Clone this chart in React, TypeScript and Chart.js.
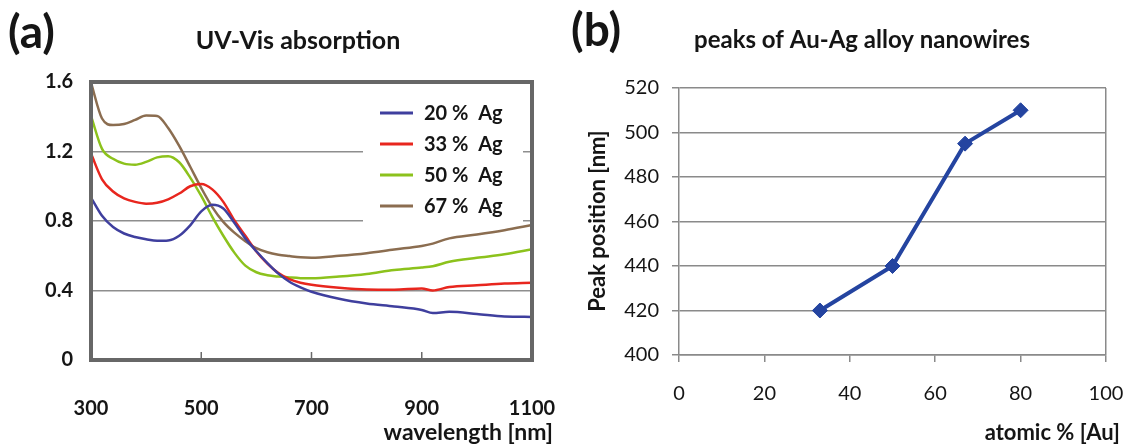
import React, { useEffect, useRef } from "react";
import { Chart, registerables } from "chart.js";

Chart.register(...registerables);

// ---------- Panel (a): UV-Vis absorption ----------
const wavelengths = [300, 320, 340, 360, 380, 400, 420, 440, 460, 480, 500, 520, 540, 560, 580, 600, 620, 640, 660, 680, 700, 750, 800, 850, 900, 920, 950, 1000, 1050, 1100];
const ag20 = [0.935, 0.83, 0.765, 0.728, 0.708, 0.695, 0.686, 0.688, 0.715, 0.775, 0.855, 0.893, 0.872, 0.79, 0.70, 0.626, 0.558, 0.497, 0.45, 0.418, 0.393, 0.352, 0.325, 0.308, 0.288, 0.27, 0.277, 0.265, 0.25, 0.248];
const ag33 = [1.188, 1.04, 0.97, 0.93, 0.91, 0.90, 0.905, 0.925, 0.958, 1.0, 1.013, 0.982, 0.91, 0.805, 0.715, 0.625, 0.555, 0.50, 0.465, 0.445, 0.433, 0.416, 0.406, 0.405, 0.412, 0.40, 0.42, 0.43, 0.44, 0.445];
const ag50 = [1.405, 1.215, 1.158, 1.13, 1.124, 1.14, 1.166, 1.173, 1.138, 1.05, 0.944, 0.824, 0.715, 0.618, 0.543, 0.505, 0.488, 0.48, 0.475, 0.471, 0.47, 0.48, 0.495, 0.518, 0.532, 0.54, 0.565, 0.588, 0.608, 0.637];
const ag67 = [1.597, 1.39, 1.352, 1.358, 1.382, 1.407, 1.405, 1.335, 1.232, 1.112, 0.99, 0.88, 0.795, 0.733, 0.684, 0.644, 0.62, 0.606, 0.598, 0.591, 0.589, 0.60, 0.615, 0.636, 0.656, 0.67, 0.70, 0.722, 0.747, 0.777];
const seriesLabels = ["20 %  Ag", "33 %  Ag", "50 %  Ag", "67 %  Ag"];
const seriesColors = ["#3f3f9e", "#e8261e", "#8cc21c", "#8b6d50"];
const titleA = "UV-Vis absorption";
const xTitleA = "wavelength [nm]";

// ---------- Panel (b): peaks of Au-Ag alloy nanowires ----------
const atomicAu = [33, 50, 67, 80];
const peakPosition = [420, 440, 495, 510];
const titleB = "peaks of Au-Ag alloy nanowires";
const xTitleB = "atomic % [Au]";
const yTitleB = "Peak position [nm]";

const FONT = "Lato, 'Open Sans', 'DejaVu Sans', sans-serif";
const INK = "#151515";

const fitX = (h: number) => (s: any) => {
  s.height = h;
  s.paddingLeft = 0;
  s.paddingRight = 0;
};
const fitY = (w: number) => (s: any) => {
  s.width = w;
  s.paddingTop = 0;
  s.paddingBottom = 0;
};

const panelAPlugin = {
  id: "panelA",
  beforeDatasetsDraw(chart: any) {
    const ctx = chart.ctx;
    ctx.save();
    ctx.fillStyle = "#ffffff";
    ctx.fillRect(363, 96, 160, 126);
    ctx.restore();
  },
  afterDatasetsDraw(chart: any) {
    const { ctx, chartArea: a, scales } = chart;
    ctx.save();
    ctx.strokeStyle = "#6a6a6a";
    ctx.lineWidth = 1.5;
    [500, 700, 900].forEach((v) => {
      const px = scales.x.getPixelForValue(v);
      ctx.beginPath();
      ctx.moveTo(px, a.bottom);
      ctx.lineTo(px, a.bottom - 8);
      ctx.stroke();
    });
    ctx.strokeStyle = "#676767";
    ctx.lineWidth = 4;
    ctx.strokeRect(a.left, a.top, a.right - a.left, a.bottom - a.top);
    ctx.font = `bold 20px ${FONT}`;
    ctx.textBaseline = "middle";
    ctx.textAlign = "left";
    chart.data.datasets.forEach((ds: any, i: number) => {
      const y = 113 + i * 31;
      ctx.strokeStyle = ds.borderColor;
      ctx.lineWidth = 3;
      ctx.beginPath();
      ctx.moveTo(380, y);
      ctx.lineTo(413, y);
      ctx.stroke();
      ctx.fillStyle = INK;
      ctx.fillText(ds.label, 424, y + 1);
    });
    ctx.restore();
  },
  afterDraw(chart: any) {
    const ctx = chart.ctx;
    ctx.save();
    ctx.fillStyle = INK;
    ctx.textBaseline = "alphabetic";
    ctx.textAlign = "left";
    ctx.font = `bold 46px ${FONT}`;
    ctx.fillText("(a)", 8, 48);
    ctx.font = `bold 25px ${FONT}`;
    ctx.textAlign = "center";
    ctx.fillText(titleA, 298, 49);
    ctx.font = `bold 23px ${FONT}`;
    ctx.textAlign = "right";
    ctx.fillText(xTitleA, 553, 440);
    ctx.restore();
  },
};

const panelBPlugin = {
  id: "panelB",
  afterDraw(chart: any) {
    const { ctx } = chart;
    ctx.save();
    ctx.fillStyle = INK;
    ctx.textBaseline = "alphabetic";
    ctx.textAlign = "left";
    ctx.font = `bold 46px ${FONT}`;
    ctx.fillText("(b)", 11, 46);
    ctx.font = `bold 24px ${FONT}`;
    ctx.textAlign = "center";
    ctx.fillText(titleB, 302, 48);
    ctx.font = `bold 22px ${FONT}`;
    ctx.textAlign = "right";
    ctx.fillText(xTitleB, 560, 440);
    ctx.translate(38, 221);
    ctx.rotate(-Math.PI / 2);
    ctx.textAlign = "center";
    ctx.textBaseline = "middle";
    ctx.font = `bold 22px ${FONT}`;
    ctx.fillText(yTitleB, 0, 0);
    ctx.restore();
  },
};

function PanelA() {
  const ref = useRef<HTMLCanvasElement>(null);
  useEffect(() => {
    const series = [ag20, ag33, ag50, ag67];
    const chart = new Chart(ref.current!, {
      type: "line",
      data: {
        labels: wavelengths,
        datasets: series.map((vals, i) => ({
          label: seriesLabels[i],
          data: vals.map((v, j) => ({ x: wavelengths[j], y: v })),
          borderColor: seriesColors[i],
          backgroundColor: seriesColors[i],
          borderWidth: 2.5,
          pointRadius: 0,
          cubicInterpolationMode: "monotone" as const,
          fill: false,
        })),
      },
      options: {
        responsive: false,
        animation: false,
        layout: { padding: { left: 0, top: 82, right: 28, bottom: 0 } },
        plugins: { legend: { display: false }, tooltip: { enabled: false }, title: { display: false } },
        scales: {
          x: {
            type: "linear",
            min: 300,
            max: 1100,
            afterFit: fitX(86),
            grid: { display: false },
            border: { display: false },
            ticks: {
              stepSize: 200,
              padding: 29,
              color: INK,
              font: { family: FONT, size: 20, weight: "bold" },
              callback: (v: any) => String(v),
            },
          },
          y: {
            min: 0,
            max: 1.6,
            afterFit: fitY(91),
            grid: { color: "#8e8e8e", lineWidth: 1.5, drawTicks: false },
            border: { display: false },
            ticks: {
              stepSize: 0.4,
              padding: 18,
              color: INK,
              font: { family: FONT, size: 20, weight: "bold" },
            },
          },
        },
      },
      plugins: [panelAPlugin],
    } as any);
    return () => chart.destroy();
  }, []);
  return <canvas ref={ref} width={560} height={446} style={{ position: "absolute", left: 0, top: 0 }} />;
}

function PanelB() {
  const ref = useRef<HTMLCanvasElement>(null);
  useEffect(() => {
    const gray = "#8a8a8a";
    const chart = new Chart(ref.current!, {
      type: "line",
      data: {
        datasets: [
          {
            label: "peak",
            data: atomicAu.map((x, i) => ({ x, y: peakPosition[i] })),
            borderColor: "#2444a0",
            backgroundColor: "#2444a0",
            borderWidth: 4,
            pointStyle: "rectRot",
            pointRadius: 7.5,
            pointBorderWidth: 1,
            tension: 0,
          },
        ],
      },
      options: {
        responsive: false,
        animation: false,
        layout: { padding: { left: 0, top: 88, right: 19, bottom: 0 } },
        plugins: { legend: { display: false }, tooltip: { enabled: false }, title: { display: false } },
        scales: {
          x: {
            type: "linear",
            min: 0,
            max: 100,
            afterFit: fitX(91),
            grid: {
              color: (c: any) => (c.tick && c.tick.value === 100 ? gray : "rgba(0,0,0,0)"),
              tickColor: gray,
              lineWidth: 1.5,
              tickLength: 7,
            },
            border: { display: true, color: gray, width: 1.5 },
            ticks: {
              stepSize: 20,
              padding: 20,
              color: INK,
              font: { family: FONT, size: 20 },
            },
          },
          y: {
            min: 400,
            max: 520,
            afterFit: fitY(119),
            grid: { color: gray, lineWidth: 1.5, tickLength: 7, tickColor: gray },
            border: { display: true, color: gray, width: 1.5 },
            ticks: {
              stepSize: 20,
              padding: 13,
              color: INK,
              font: { family: FONT, size: 20 },
            },
          },
        },
      },
      plugins: [panelBPlugin],
    } as any);
    return () => chart.destroy();
  }, []);
  return <canvas ref={ref} width={565} height={446} style={{ position: "absolute", left: 560, top: 0 }} />;
}

export default function App() {
  return (
    <div style={{ position: "absolute", left: 0, top: 0, width: 1125, height: 446, background: "#ffffff", overflow: "hidden" }}>
      <PanelA />
      <PanelB />
    </div>
  );
}
